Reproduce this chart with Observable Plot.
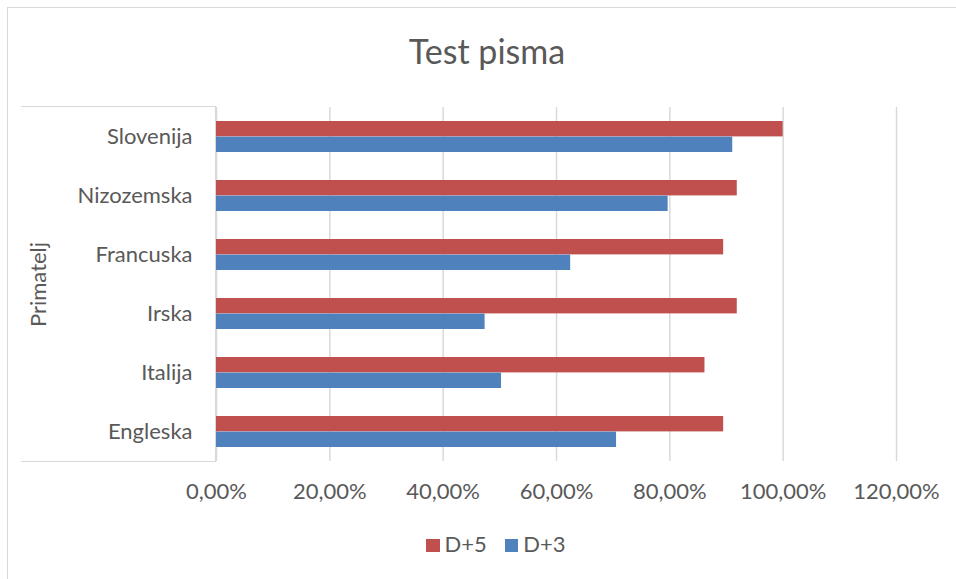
<!DOCTYPE html>
<html>
<head>
<meta charset="utf-8">
<script src="https://cdn.jsdelivr.net/npm/d3@7"></script>
<script src="https://cdn.jsdelivr.net/npm/@observablehq/plot@0.6"></script>
<style>
  html, body { margin: 0; padding: 0; background: #fff; }
  #wrap { position: relative; width: 956px; height: 579px; overflow: hidden; font-family: Lato, "Open Sans", sans-serif; color: #595959; }
  #outer { position: absolute; left: 7px; top: 7px; width: 1000px; height: 700px; border-top: 1px solid #D9D9D9; border-left: 1px solid #D9D9D9; }
  #catbox { position: absolute; left: 21px; top: 106px; width: 194px; height: 354px; border-top: 1px solid #D9D9D9; border-bottom: 1px solid #D9D9D9; border-right: 1px solid #D9D9D9; }
  #title { position: absolute; left: 0; top: 0; width: 956px; height: 95px; box-sizing: border-box; padding-top: 34px; padding-left: 18px; text-align: center; font-size: 34px; line-height: 33px; }
  #chart { position: absolute; left: 0; top: 95px; }
  #legendwrap { position: absolute; left: 0; top: 510px; width: 956px; height: 69px; }
  #legend { position: absolute; left: 426px; top: 23px; display: flex; align-items: baseline; font-size: 22px; line-height: 22px; white-space: nowrap; }
  .sw { display: inline-block; width: 13.5px; height: 13px; margin-right: 5px; }
  .item { display: inline-flex; align-items: baseline; margin-right: 18px; }
</style>
</head>
<body>
<div id="wrap">
  <div id="outer"></div>
  <div id="catbox"></div>
  <div id="title">Test pisma</div>
  <div id="chart"></div>
  <div id="legendwrap"><div id="legend"></div></div>
</div>
<script>
const categories = ["Slovenija", "Nizozemska", "Francuska", "Irska", "Italija", "Engleska"];
const seriesNames = ["D+5", "D+3"];
const seriesColors = ["#C0504D", "#4F81BD"];
const valuesD5 = [1.000, 0.919, 0.895, 0.919, 0.862, 0.895];
const valuesD3 = [0.911, 0.797, 0.625, 0.474, 0.503, 0.706];
const xTicks = [0, 0.2, 0.4, 0.6, 0.8, 1.0, 1.2];

const rowsD5 = categories.map((c, i) => ({category: c, value: valuesD5[i], series: "D+5"}));
const rowsD3 = categories.map((c, i) => ({category: c, value: valuesD3[i], series: "D+3"}));

const fmt = d => (d * 100).toFixed(2).replace(".", ",") + "%";

const half = 15.6;

const plot = Plot.plot({
  width: 956,
  height: 415,
  marginTop: 12,
  marginBottom: 49,
  marginLeft: 216,
  marginRight: 60,
  style: {fontFamily: "Lato, 'Open Sans', sans-serif", fontSize: "22px", color: "#595959", background: "transparent", overflow: "visible"},
  x: {domain: [0, 1.2], ticks: xTicks},
  y: {domain: categories, paddingInner: 0.47, paddingOuter: 0.235, label: "Primatelj"},
  marks: [
    Plot.gridX(xTicks, {stroke: "#D9D9D9", strokeOpacity: 1, strokeWidth: 1.5}),
    Plot.barX(rowsD5, {y: "category", x: "value", fill: seriesColors[0], insetBottom: half, insetTop: 0}),
    Plot.barX(rowsD3, {y: "category", x: "value", fill: seriesColors[1], insetTop: half, insetBottom: 0}),
    Plot.axisX(xTicks, {tickSize: 0, tickPadding: 22, tickFormat: fmt, label: null}),
    Plot.axisY({tickSize: 0, tickPadding: 24, label: "Primatelj", labelAnchor: "center", labelOffset: 186, labelArrow: "none"})
  ]
});

document.getElementById("chart").append(plot);

// legend
const legend = d3.select("#legend");
seriesNames.forEach((name, i) => {
  const item = legend.append("span").attr("class", "item");
  item.append("span").attr("class", "sw").style("background", seriesColors[i]);
  item.append("span").text(name);
});
</script>
</body>
</html>
